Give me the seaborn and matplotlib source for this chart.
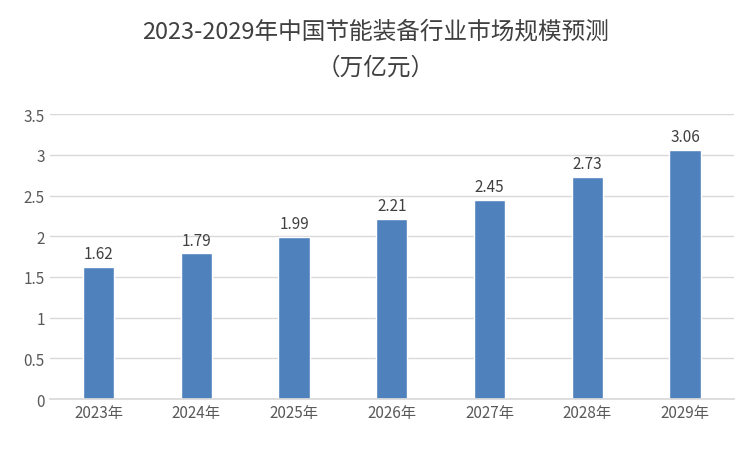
import matplotlib
matplotlib.use("Agg")
import matplotlib.pyplot as plt
import seaborn as sns
import pandas as pd

years = ["2023年", "2024年", "2025年", "2026年", "2027年", "2028年", "2029年"]
values = [1.62, 1.79, 1.99, 2.21, 2.45, 2.73, 3.06]
yticks = [0, 0.5, 1, 1.5, 2, 2.5, 3, 3.5]

sns.set_theme(style="white", font="sans-serif",
              rc={"font.sans-serif": ["Noto Sans CJK SC", "Noto Sans CJK JP", "DejaVu Sans"]})
df = pd.DataFrame({"year": years, "value": values})

fig = plt.figure(figsize=(7.52, 4.52), dpi=100)
ax = fig.add_axes([0.066, 0.115, 0.91, 0.63])
sns.barplot(data=df, x="year", y="value", color="#4f81bd", saturation=1, width=0.32, ax=ax)

for i, v in enumerate(values):
    ax.text(i, v + 0.06, f"{v:.2f}", ha="center", va="bottom", fontsize=11, color="#404040")

ax.set_ylim(0, 3.5)
ax.set_yticks(yticks)
ax.set_yticklabels([f"{t:g}" for t in yticks], fontsize=11, color="#595959")
ax.tick_params(axis="x", labelsize=11, colors="#595959", length=0)
ax.tick_params(axis="y", length=0)
ax.yaxis.grid(True, color="#d9d9d9", linewidth=1)
ax.set_axisbelow(True)
ax.set_xlabel("")
ax.set_ylabel("")
for s in ["top", "right", "left"]:
    ax.spines[s].set_visible(False)
ax.spines["bottom"].set_color("#d9d9d9")

fig.text(0.5, 0.915, "2023-2029年中国节能装备行业市场规模预测", ha="center", fontsize=17, color="#404040")
fig.text(0.5, 0.835, "（万亿元）", ha="center", fontsize=17, color="#404040")

fig.savefig("out.png", dpi=100)
